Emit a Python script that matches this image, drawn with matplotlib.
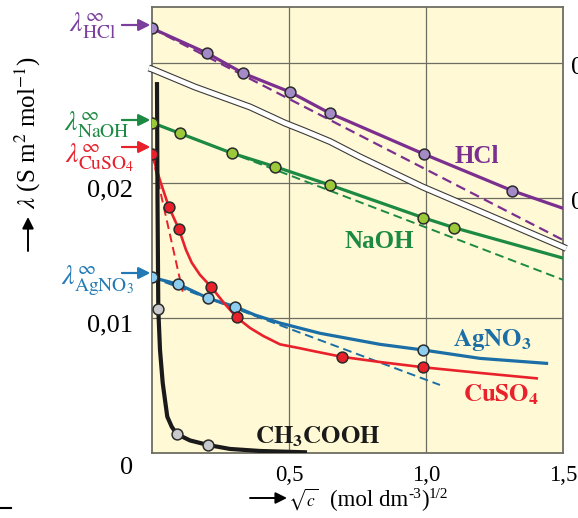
import numpy as np
import matplotlib.pyplot as plt
import matplotlib.transforms as mtransforms
from matplotlib.lines import Line2D

plt.rcParams['font.family'] = ['Liberation Serif', 'DejaVu Serif']
plt.rcParams['mathtext.fontset'] = 'stix'

# values: x = sqrt(c), y = molar conductivity (S m2 mol-1)
# HCl sits on the shifted upper scale (right hand axis)
hcl_x = [0, 0.202, 0.333, 0.504, 0.650, 0.994, 1.315]
hcl_y = [0.04257, 0.04072, 0.03924, 0.03785, 0.03627, 0.03324, 0.03054]
hcl_fit_x = [0, 0.202, 0.333, 0.504, 0.650, 0.994, 1.315, 1.5]
hcl_fit_y = [0.04257, 0.04072, 0.03924, 0.03785, 0.03627, 0.03324, 0.03054, 0.02924]
hcl_lim_x = [0, 1.5]
hcl_lim_y = [0.04257, 0.02689]

naoh_x = [0, 0.102, 0.293, 0.449, 0.650, 0.990, 1.103]
naoh_y = [0.02447, 0.02368, 0.02220, 0.02121, 0.01985, 0.01743, 0.01669]
naoh_fit_x = [0, 0.102, 0.293, 0.449, 0.650, 0.990, 1.103, 1.5]
naoh_fit_y = [0.02447, 0.02368, 0.02220, 0.02121, 0.01985, 0.01743, 0.01669, 0.01444]
naoh_lim_x = [0, 1.5]
naoh_lim_y = [0.02447, 0.01283]

cuso4_x = [0, 0.062, 0.0985, 0.2153, 0.309, 0.692, 0.990]
cuso4_y = [0.02215, 0.0182, 0.01657, 0.01232, 0.01005, 0.00713, 0.00635]
cuso4_fit_x = [0, 0.029, 0.062, 0.0985, 0.124, 0.145, 0.175, 0.2153, 0.260, 0.309,
               0.358, 0.406, 0.467, 0.540, 0.589, 0.692, 0.832, 0.990, 1.197, 1.404]
cuso4_fit_y = [0.02215, 0.0202, 0.0182, 0.01657, 0.01505, 0.0141, 0.0132, 0.01232,
               0.01118, 0.01005, 0.00926, 0.00867, 0.00805, 0.00776, 0.00755, 0.00713,
               0.00674, 0.00635, 0.00593, 0.00553]
cuso4_lim_x = [0, 0.112]
cuso4_lim_y = [0.02215, 0.01195]

agno3_x = [0, 0.096, 0.2055, 0.303, 0.990]
agno3_y = [0.01301, 0.0125, 0.01146, 0.01084, 0.00763]
agno3_fit_x = [0, 0.096, 0.2055, 0.303, 0.376, 0.467, 0.613, 0.832, 0.990, 1.197, 1.44]
agno3_fit_y = [0.01301, 0.0125, 0.01146, 0.01084, 0.01022, 0.00963, 0.00887, 0.00805,
               0.00763, 0.00701, 0.00664]
agno3_lim_x = [0, 1.051]
agno3_lim_y = [0.01301, 0.00504]

ch3cooh_x = [0.023, 0.090, 0.2054]
ch3cooh_y = [0.01064, 0.00141, 0.00059]
ch3cooh_fit_x = [0.0182, 0.0201, 0.0230, 0.0292, 0.0391, 0.0474, 0.0558, 0.0719,
                 0.0901, 0.1387, 0.2054, 0.2847, 0.3942, 0.5657]
ch3cooh_fit_y = [0.02748, 0.01874, 0.01064, 0.00763, 0.00519, 0.00393, 0.00269, 0.00195,
                 0.00141, 0.00093, 0.00059, 0.00030, 0.00015, 0.00005]

# axis break line (lower scale)
break_x = [-0.012, 0, 0.157, 0.358, 0.485, 0.558, 0.650, 0.759, 0.989, 1.5, 1.512]
break_y = [0.02852, 0.02844, 0.02711, 0.02563, 0.02444, 0.02385, 0.02307, 0.02193,
           0.01970, 0.01526, 0.01515]

x_ticks = [0.5, 1.0, 1.5]
x_labels = ['0,5', '1,0', '1,5']
y_ticks = [0, 0.01, 0.02]
y_labels = ['0', '0,01', '0,02']
y2_ticks = [0.03, 0.04]
y2_labels = ['0,03', '0,04']

ylim_low = (0, 0.03304)
ylim_up = (0.01111, 0.04415)
up_offset = ylim_up[0] - ylim_low[0]

bg = '#FFF9D5'
frame = '#6D6D62'
purple, purple_mk = '#7B2F8F', '#A48AC6'
green, green_mk = '#1D8A43', '#9BC93A'
red = '#E8212B'
blue, blue_mk = '#1B6EA6', '#8DCDF0'
gray_mk = '#C9CACD'
mk_edge = '#2B2B2B'

fig = plt.figure(figsize=(5.78, 5.18), dpi=100)
ax = fig.add_axes([152 / 578, 65 / 518, 411 / 578, 446 / 518])
ax.set_facecolor(bg)
ax.set_xlim(0, 1.5)
ax.set_ylim(*ylim_low)
ax2 = ax.twinx()
ax2.set_ylim(*ylim_up)
for s in ax2.spines.values():
    s.set_visible(False)
for s in ax.spines.values():
    s.set_color(frame)
    s.set_linewidth(1.3)

# grid: verticals run through, horizontals stop at the break
brk_x_rev = break_x[::-1]
brk_y_rev = break_y[::-1]
for xv in x_ticks[:2]:
    ax.axvline(xv, color=frame, lw=0.9, zorder=1)
for yv in y_ticks[1:]:
    xe = min(np.interp(yv, brk_y_rev, brk_x_rev), 1.5)
    ax.plot([0, xe], [yv, yv], color=frame, lw=0.9, zorder=1)
for yv in y2_ticks:
    yl = yv - up_offset
    xs = max(np.interp(yl, brk_y_rev, brk_x_rev), 0)
    ax.plot([xs, 1.5], [yl, yl], color=frame, lw=0.9, zorder=1)

# ticks
ax.set_xticks(x_ticks, labels=x_labels)
ax.set_yticks(y_ticks, labels=y_labels)
ax.tick_params(length=0)
ax.tick_params(axis='y', pad=13.5, labelsize=19)
ax.tick_params(axis='x', pad=8.6, labelsize=16.5)
ax2.set_yticks(y2_ticks, labels=y2_labels)
ax2.tick_params(axis='y', length=0, pad=5.5, labelsize=19)
shift = lambda d: mtransforms.ScaledTranslation(0, -d / 100, fig.dpi_scale_trans)
for lbl in ax.get_yticklabels():
    lbl.set_transform(lbl.get_transform() + shift(4.5))
for lbl in ax2.get_yticklabels():
    lbl.set_transform(lbl.get_transform() + shift(2))
zero_lbl = ax.get_yticklabels()[0]
zero_lbl.set_transform(zero_lbl.get_transform() + shift(7.5))

dash = (0, (4.5, 2.5))
mk = dict(marker='o', ms=7.8, mec=mk_edge, mew=1.1, ls='none', zorder=6)

# HCl (upper scale)
ax2.plot(hcl_lim_x, hcl_lim_y, color=purple, lw=1.6, ls=dash, zorder=3)
ax2.plot(hcl_fit_x, hcl_fit_y, color=purple, lw=2.3, zorder=4)
ax2.plot(hcl_x, hcl_y, mfc=purple_mk, **mk)

# lower scale
ax.plot(naoh_lim_x, naoh_lim_y, color=green, lw=1.4, ls=dash, zorder=3)
ax.plot(naoh_fit_x, naoh_fit_y, color=green, lw=2.3, zorder=4)
ax.plot(agno3_lim_x, agno3_lim_y, color=blue, lw=1.4, ls=dash, zorder=3)
ax.plot(agno3_fit_x, agno3_fit_y, color=blue, lw=2.3, zorder=4)
ax.plot(cuso4_lim_x, cuso4_lim_y, color=red, lw=1.4, ls=dash, zorder=3)
ax.plot(cuso4_fit_x, cuso4_fit_y, color=red, lw=1.9, zorder=4)
ax.plot(ch3cooh_fit_x, ch3cooh_fit_y, color='#1A1A1A', lw=3.0, zorder=5,
        solid_capstyle='butt')
ax.plot(naoh_x, naoh_y, mfc=green_mk, **mk)
ax.plot(agno3_x, agno3_y, mfc=blue_mk, **mk)
ax.plot(cuso4_x, cuso4_y, mfc=red, **mk)
ax.plot(ch3cooh_x, ch3cooh_y, mfc=gray_mk, **mk)

# break band
ax2.plot(break_x, break_y, color='#3A3A3A', lw=5.0, transform=ax.transData,
         clip_on=False, zorder=8, solid_capstyle='butt')
ax2.plot(break_x, break_y, color='white', lw=3.4, transform=ax.transData,
         clip_on=False, zorder=9, solid_capstyle='butt')

# series names
ax.text(1.106, 0.02148, 'HCl', color=purple, fontsize=18, fontweight='bold')
ax.text(0.704, 0.01516, 'NaOH', color=green, fontsize=18, fontweight='bold')
ax.text(1.099, 0.00793, r'$\mathbf{AgNO_3}$', color=blue, fontsize=18)
ax.text(1.135, 0.00380, r'$\mathbf{CuSO_4}$', color=red, fontsize=18)
ax.text(0.376, 0.00072, r'$\mathbf{CH_3COOH}$', color='#1A1A1A', fontsize=18, zorder=7)

# limiting values on the left
px = lambda x, y: (x, 518 - y)
lims = [
    (r'$\lambda^{\infty}_{\mathrm{HCl}}$', '#7B3F9E', 116, 32, 25),
    (r'$\lambda^{\infty}_{\mathrm{NaOH}}$', green, 129, 131, 120),
    (r'$\lambda^{\infty}_{\mathrm{CuSO_4}}$', red, 134, 162, 147),
    (r'$\lambda^{\infty}_{\mathrm{AgNO_3}}$', '#2279B5', 134, 285, 273),
]
for txt, col, xr, yb, ya in lims:
    fig.text(xr / 578, 1 - yb / 518, txt, color=col, fontsize=20, ha='right', va='baseline')
    fig.add_artist(plt.annotate('', xy=px(150, ya), xytext=px(122, ya), xycoords='figure pixels',
                                arrowprops=dict(arrowstyle='-|>', color=col, lw=1.5,
                                                mutation_scale=17, shrinkA=0, shrinkB=0)))

# axis titles
fig.text(28 / 578, 1 - 133 / 518, r'$\lambda$ (S m$^2$ mol$^{-1}$)', rotation=90,
         fontsize=18, ha='center', va='center')
ax.annotate('', xy=px(28, 217), xytext=px(28, 251), xycoords='figure pixels',
            arrowprops=dict(arrowstyle='-|>', color='black', lw=1.4, mutation_scale=17,
                            shrinkA=0, shrinkB=0))
fig.text(288 / 578, 1 - 506 / 518, r'$\sqrt{c}$', fontsize=12.5, ha='left', va='baseline')
renderer = fig.canvas.get_renderer()
xpos = 330
for piece, fs, rise in [('(mol dm', 16.5, 0), ('-3', 11, 8.5), (')', 16.5, 0), ('1/2', 11, 8)]:
    t = fig.text(xpos / 578, (12 + rise) / 518, piece, fontsize=fs, ha='left', va='baseline')
    xpos += t.get_window_extent(renderer).width
ax.annotate('', xy=px(287, 498), xytext=px(250, 498), xycoords='figure pixels',
            arrowprops=dict(arrowstyle='-|>', color='black', lw=1.4, mutation_scale=17,
                            shrinkA=0, shrinkB=0))
fig.add_artist(Line2D([0, 11 / 578], [1 - 508 / 518] * 2, color='black', lw=1.5))

fig.savefig('out.png', dpi=100)
